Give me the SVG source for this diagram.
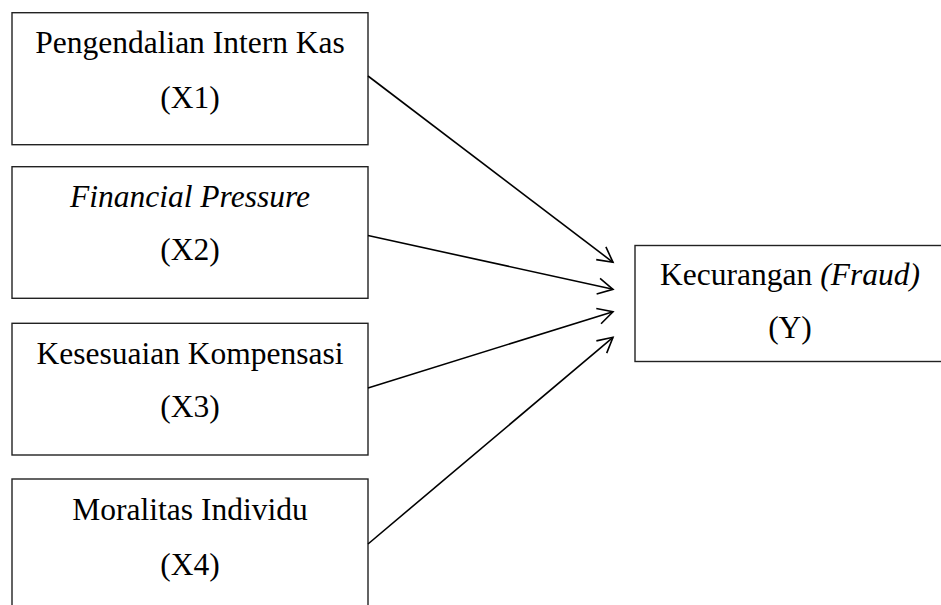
<svg xmlns="http://www.w3.org/2000/svg" width="941" height="605" viewBox="0 0 941 605">
<style>
.box{fill:#fff;stroke:#222;stroke-width:1.4}
.t{font-family:"Liberation Serif","Times New Roman",serif;font-size:31.5px;fill:#000;text-anchor:middle}
.i{font-style:italic}
.c{stroke:#000;stroke-width:1.6;fill:none}
</style>
<defs>
<marker id="ah" markerUnits="userSpaceOnUse" markerWidth="20" markerHeight="20" refX="16" refY="9" orient="auto">
<path d="M1,1 L16,9 L1,17" fill="none" stroke="#000" stroke-width="1.6"/>
</marker>
</defs>
<rect width="941" height="605" fill="#fff"/>
<g id="x1">
<rect class="box" x="12" y="12.7" width="356" height="132"/>
<text class="t" x="190" y="53">Pengendalian Intern Kas</text>
<text class="t" x="190" y="108">(X1)</text>
</g>
<g id="x2">
<rect class="box" x="12" y="166.7" width="356" height="131.6"/>
<text class="t i" x="190" y="207">Financial Pressure</text>
<text class="t" x="190" y="260">(X2)</text>
</g>
<g id="x3">
<rect class="box" x="12" y="323.3" width="356" height="131.7"/>
<text class="t" x="190" y="363.5">Kesesuaian Kompensasi</text>
<text class="t" x="190" y="416.7">(X3)</text>
</g>
<g id="x4">
<rect class="box" x="12" y="479" width="356" height="140"/>
<text class="t" x="190" y="520">Moralitas Individu</text>
<text class="t" x="190" y="575">(X4)</text>
</g>
<g id="y">
<rect class="box" x="635" y="245.5" width="312" height="116"/>
<text class="t" x="790" y="285">Kecurangan <tspan class="i">(Fraud)</tspan></text>
<text class="t" x="790" y="338.3">(Y)</text>
</g>
<g id="connectors">
<line class="c" x1="368" y1="76" x2="613" y2="262.3" marker-end="url(#ah)"/>
<line class="c" x1="368" y1="235.5" x2="613" y2="289.3" marker-end="url(#ah)"/>
<line class="c" x1="368" y1="388" x2="613" y2="311.7" marker-end="url(#ah)"/>
<line class="c" x1="368" y1="544" x2="613" y2="337.3" marker-end="url(#ah)"/>
</g>
</svg>
